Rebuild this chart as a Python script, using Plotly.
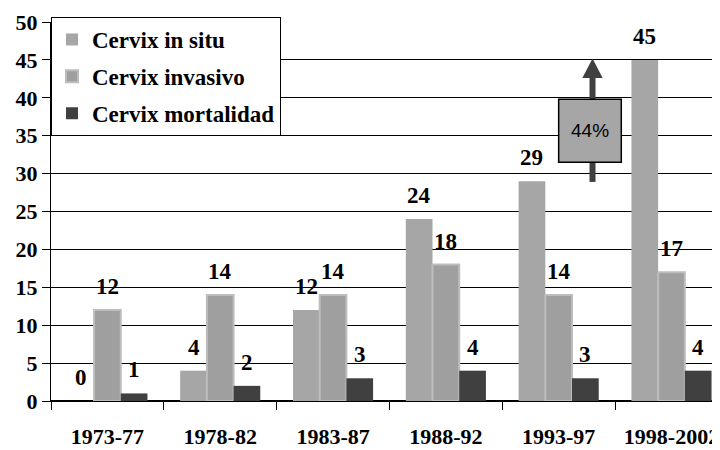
import plotly.graph_objects as go

periods = ["1973-77", "1978-82", "1983-87", "1988-92", "1993-97", "1998-2002"]
in_situ = [0, 4, 12, 24, 29, 45]
invasivo = [12, 14, 14, 18, 14, 17]
mortalidad = [1, 2, 3, 4, 3, 4]
series_names = ["Cervix in situ", "Cervix invasivo", "Cervix mortalidad"]
increase_label = "44%"

SERIF = "Liberation Serif"
label_font = dict(family=SERIF, size=23, color="black", weight="bold")
tick_font = dict(family=SERIF, size=22, color="black", weight="bold")
BARGAP = 0.29

fig = go.Figure()
specs = [
    (series_names[0], in_situ, "#a6a6a6", "#a6a6a6", 0),
    (series_names[1], invasivo, "#9f9f9f", "#bdbdbd", 2),
    (series_names[2], mortalidad, "#404040", "#404040", 0),
]
n_series = len(specs)
bar_w = (1 - BARGAP) / n_series
for i, (name, vals, fill, line, lw) in enumerate(specs):
    fig.add_trace(go.Bar(
        x=periods, y=vals, name=name, legendgroup=f"g{i}",
        marker=dict(color=fill, line=dict(color=line, width=lw)),
    ))
    # value labels above each bar
    for j, v in enumerate(vals):
        fig.add_annotation(
            x=j + (i - (n_series - 1) / 2) * bar_w, y=v, xref="x", yref="y",
            text=str(v), showarrow=False, yanchor="bottom", yshift=9,
            font=label_font,
        )

# arrow with box (in category index / value coordinates)
fig.add_shape(type="line", xref="x", yref="y", x0=4.3, x1=4.3, y0=28.9, y1=43.0,
              line=dict(color="#404040", width=6), layer="above")
fig.add_shape(type="path", xref="x", yref="y",
              path="M 4.21 42.6 L 4.39 42.6 L 4.3 45.2 Z",
              fillcolor="#404040", line=dict(color="#404040", width=0), layer="above")
fig.add_shape(type="rect", xref="x", yref="y", x0=4.0, x1=4.555, y0=31.5, y1=39.8,
              fillcolor="#a6a6a6", line=dict(color="black", width=1.5), layer="above")
fig.add_annotation(x=4.2775, y=35.65, xref="x", yref="y", text=increase_label, showarrow=False,
                   font=dict(family="Liberation Sans", size=19, color="black"))

# page body has an 8px margin, so the figure is sized 712x442
fig.update_layout(
    width=712, height=442,
    margin=dict(l=43, r=0, t=9, b=49, autoexpand=False),
    plot_bgcolor="white", paper_bgcolor="white",
    barmode="group", bargap=BARGAP, bargroupgap=0,
    showlegend=True,
    legend=dict(x=0.0, y=1.0, xanchor="left", yanchor="top",
                bgcolor="white", bordercolor="black", borderwidth=1,
                font=dict(family=SERIF, size=23, color="black", weight="bold"),
                tracegroupgap=4, itemwidth=30),
    xaxis=dict(type="category", range=[-0.5, 5.43], showgrid=False,
               showline=True, linecolor="black", linewidth=1,
               ticks="outside", tickson="boundaries", ticklen=8, tickcolor="black",
               tickfont=tick_font, ticklabelstandoff=16),
    yaxis=dict(range=[0, 50], dtick=5, domain=[0, 379 / 384],
               showgrid=True, gridcolor="black", gridwidth=1,
               showline=True, linecolor="black", linewidth=1, zeroline=True,
               zerolinecolor="black",
               ticks="outside", ticklen=8, tickcolor="black",
               tickfont=tick_font),
)
fig.write_html("out.html")
